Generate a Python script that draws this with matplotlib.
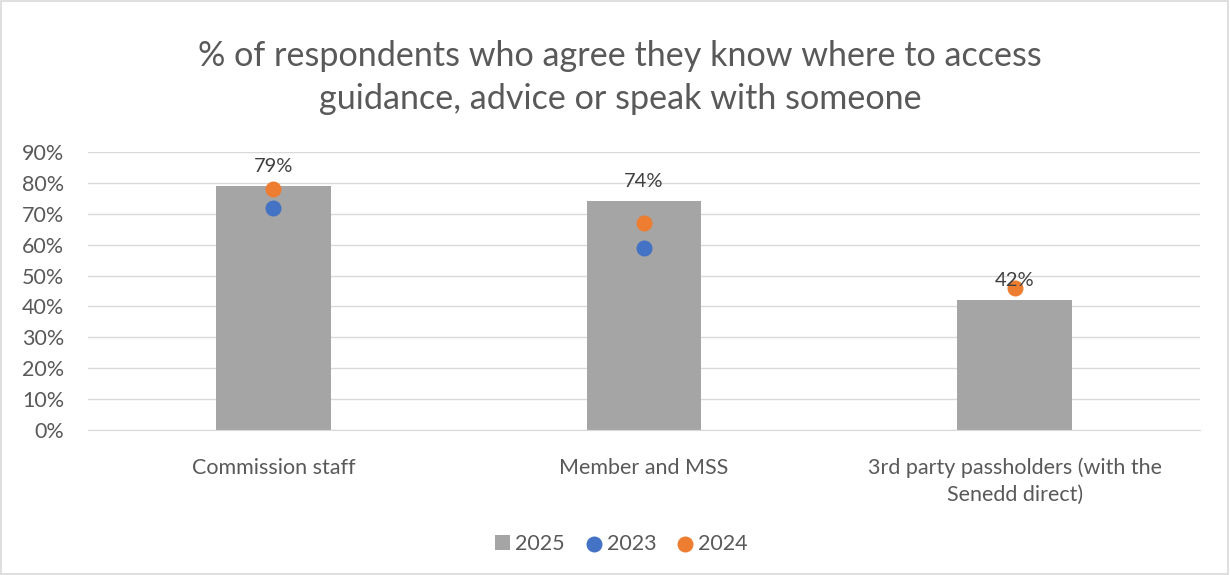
import matplotlib.pyplot as plt
import numpy as np
from matplotlib.patches import Rectangle

categories = ["Commission staff", "Member and MSS", "3rd party passholders (with the\nSenedd direct)"]
y2025 = [79, 74, 42]
y2023 = [72, 59, None]
y2024 = [78, 67, 46]

plt.rcParams['font.family'] = ['Lato', 'DejaVu Sans']

fig = plt.figure(figsize=(12.3, 5.75), dpi=100)
ax = fig.add_axes([88 / 1230, 1 - 430 / 575, (1200 - 88) / 1230, (430 - 152) / 575])

x = np.arange(len(categories))
bars = ax.bar(x, y2025, 0.31, color="#A5A5A5", label="2025", zorder=2)

x23 = [i for i, v in zip(x, y2023) if v is not None]
v23 = [v for v in y2023 if v is not None]
s23 = ax.scatter(x23, v23, s=110, color="#4472C4", label="2023", zorder=3)
s24 = ax.scatter(x, y2024, s=110, color="#ED7D31", label="2024", zorder=3)

for xi, v in zip(x, y2025):
    ax.text(xi, v + 3.6, f"{v}%", ha="center", va="bottom", fontsize=14.5, color="#404040")

ax.set_xlim(-0.5, 2.5)
ax.set_ylim(0, 90)
ax.set_yticks(np.arange(0, 91, 10))
ax.set_yticklabels([f"{v}%" for v in range(0, 91, 10)])
ax.set_xticks(x, categories, linespacing=1.4)
ax.grid(axis="y", color="#D9D9D9", linewidth=1, zorder=0)
for s in ax.spines.values():
    s.set_visible(False)
ax.spines["bottom"].set_visible(True)
ax.spines["bottom"].set_color("#D9D9D9")
ax.tick_params(axis="both", length=0, labelsize=15.5, labelcolor="#595959")
ax.tick_params(axis="y", pad=17)
ax.tick_params(axis="x", pad=20)

fig.text(0.504, 0.865, "% of respondents who agree they know where to access\nguidance, advice or speak with someone",
         ha="center", va="center", fontsize=24.6, color="#595959", linespacing=1.45)

leg = fig.legend([bars, s23, s24], ["2025", "2023", "2024"], loc="center",
                 bbox_to_anchor=(0.505, 0.054), ncol=3, frameon=False,
                 fontsize=15.5, handlelength=0.7, handletextpad=0.25, columnspacing=1.0,
                 labelcolor="#595959")

fig.patches.append(Rectangle((0.001, 0.001), 0.997, 0.997, transform=fig.transFigure,
                             fill=False, edgecolor="#D9D9D9", linewidth=1.2))

fig.savefig("out.png", dpi=100)
